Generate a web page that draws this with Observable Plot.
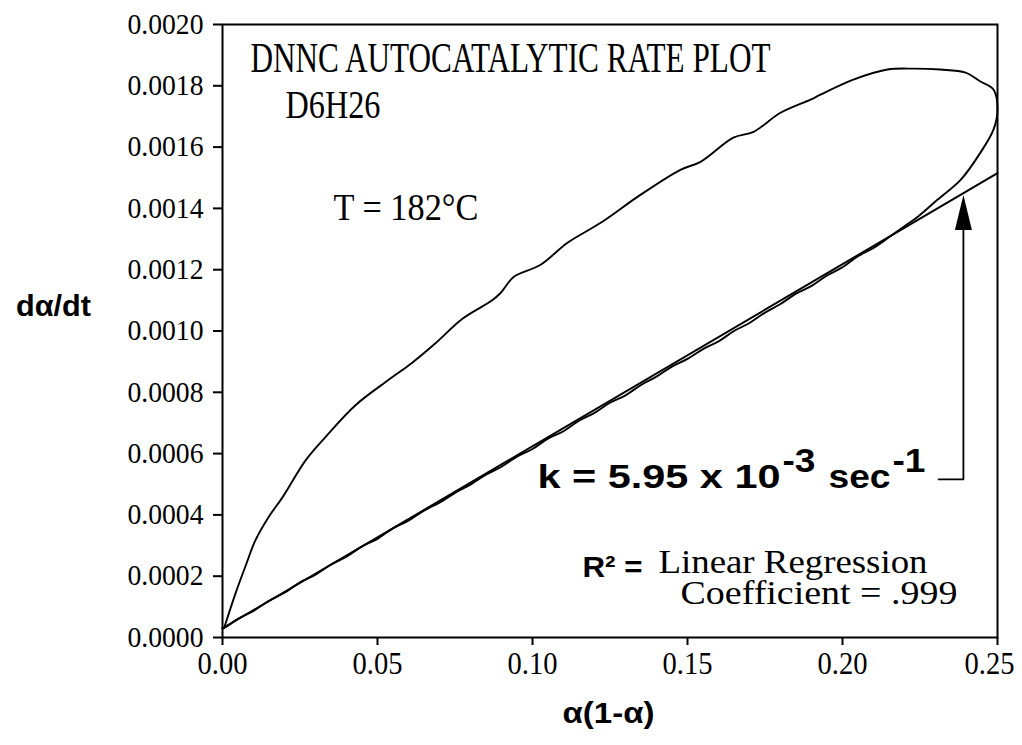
<!DOCTYPE html>
<html><head><meta charset="utf-8">
<script src="https://cdn.jsdelivr.net/npm/d3@7"></script>
<script src="https://cdn.jsdelivr.net/npm/@observablehq/plot@0.6"></script>
<style>body{margin:0;background:#fff}</style>
</head><body><div id="chart"></div>
<script>
// Measured loop: alpha(1-alpha) and d(alpha)/dt, in drawing order
const loopX = [0.0005,0.0042,0.0075,0.0106,0.015,0.0194,0.0268,0.0332,0.0429,0.0535,0.061,0.0687,0.0774,0.087,0.0897,0.0939,0.1026,0.1113,0.122,0.1348,0.1477,0.1542,0.1648,0.1713,0.18,0.1897,0.1929,0.2035,0.2145,0.2229,0.2316,0.2397,0.2445,0.2487,0.25,0.2487,0.2445,0.2381,0.2306,
  0.2242,0.22,0.215,0.21,0.205,0.2,0.195,0.19,0.185,0.18,0.175,0.17,0.165,0.16,0.155,0.15,0.145,0.14,0.135,0.13,0.125,0.12,0.115,0.11,0.105,0.1,0.095,0.09,0.085,0.08,0.075,0.07,0.065,0.06,0.055,0.05,0.045,0.04,0.035,0.03,0.025,0.02,0.015,0.01,0.005,0.001,0.0];
const loopY = [0.00003,0.000144,0.000235,0.000317,0.000395,0.000458,0.000578,0.000654,0.000758,0.00084,0.000895,0.00096,0.00104,0.0011,0.001124,0.001176,0.001216,0.001288,0.001353,0.001444,0.001526,0.001552,0.001631,0.00165,0.001712,0.001755,0.001771,0.00182,0.001853,0.001856,0.001853,0.001843,0.001814,0.001788,0.001722,0.001657,0.001582,0.001493,0.001428,
  0.001372,0.001342,0.001306,0.001271,0.001244,0.001208,0.001181,0.001147,0.001122,0.001088,0.00106,0.001026,0.001,0.000966,0.000941,0.000909,0.000884,0.000851,0.000824,0.00079,0.000766,0.000733,0.000707,0.000673,0.000649,0.000615,0.00059,0.000557,0.000531,0.000499,0.000472,0.00044,0.000414,0.000381,0.000356,0.000322,0.000297,0.000264,0.000238,0.000205,0.00018,0.000146,0.00012,0.000087,0.000061,0.000034,0.00003];
// Regression line endpoints
const fitX = [0, 0.25];
const fitY = [0.00003, 0.001515];
// Tick values
const xTicks = [0, 0.05, 0.10, 0.15, 0.20, 0.25];
const yTicks = [0, 0.0002, 0.0004, 0.0006, 0.0008, 0.0010, 0.0012, 0.0014, 0.0016, 0.0018, 0.0020];
// Annotation texts
const titleText = "DNNC AUTOCATALYTIC RATE PLOT";
const sampleText = "D6H26";
const tempText = "T = 182°C";
const kText = ["k = 5.95 x 10", "-3", "sec", "-1"];
const r2Text = ["R² =", "Linear Regression", "Coefficient = .999"];
const yLabel = "dα/dt";
const xLabel = "α(1-α)";

const loop = loopX.map((x, i) => ({x, y: loopY[i]}));
const fit = fitX.map((x, i) => ({x, y: fitY[i]}));

const serif = "Liberation Serif, Times New Roman, serif";
const sans = "Liberation Sans, Arial, sans-serif";

// annotation layout (data units)
const notes = [
  {t: titleText, x: 0.00903, y: 0.001846, fs: 42, ff: serif, fw: "normal", len: 520, a: "start"},
  {t: sampleText, x: 0.02032, y: 0.001696, fs: 40, ff: serif, fw: "normal", len: 95, a: "start"},
  {t: tempText, x: 0.0358, y: 0.001363, fs: 38, ff: serif, fw: "normal", len: 145, a: "start"},
  {t: kText[0], x: 0.10161, y: 0.000487, fs: 33, ff: sans, fw: "bold", len: 243, a: "start"},
  {t: kText[1], x: 0.18065, y: 0.000539, fs: 33, ff: sans, fw: "bold", len: 33, a: "start"},
  {t: kText[2], x: 0.19548, y: 0.000487, fs: 33, ff: sans, fw: "bold", len: 62, a: "start"},
  {t: kText[3], x: 0.21613, y: 0.000539, fs: 33, ff: sans, fw: "bold", len: 33, a: "start"},
  {t: r2Text[0], x: 0.11613, y: 0.000199, fs: 30, ff: sans, fw: "bold", len: 60, a: "start"},
  {t: r2Text[1], x: 0.14065, y: 0.000209, fs: 33, ff: serif, fw: "normal", len: 269, a: "start"},
  {t: r2Text[2], x: 0.14774, y: 0.000108, fs: 33, ff: serif, fw: "normal", len: 277, a: "start"},
  {t: yLabel, x: -0.05452, y: 0.001049, fs: 29, ff: sans, fw: "bold", len: 75, a: "middle"},
  {t: xLabel, x: 0.12452, y: -0.000278, fs: 30, ff: sans, fw: "bold", len: 92, a: "middle"}
];
const leader = [{x: 0.2310, y: 0.000516}, {x: 0.2390, y: 0.000516}, {x: 0.2390, y: 0.00133}];
const arrowTip = [{x: 0.2390, y: 0.001444}];
const headSymbol = {draw(ctx) { ctx.moveTo(0, 0); ctx.lineTo(-8.5, 35); ctx.lineTo(8.5, 35); ctx.closePath(); }};

const chart = Plot.plot({
  width: 1022, height: 745,
  marginLeft: 222, marginRight: 25, marginTop: 24, marginBottom: 108,
  style: {fontFamily: serif, background: "#fff", color: "#000"},
  x: {domain: [0, 0.25]},
  y: {domain: [0, 0.002]},
  marks: [
    Plot.frame({stroke: "#000", strokeWidth: 2}),
    Plot.axisX({ticks: xTicks, tickFormat: d3.format(".2f"), tickSize: 8, tickPadding: 6, fontSize: 32, label: null, strokeWidth: 2}),
    Plot.axisY({ticks: yTicks, tickFormat: d3.format(".4f"), tickSize: 9, tickPadding: 10, fontSize: 30, label: null, strokeWidth: 2}),
    Plot.line(fit, {x: "x", y: "y", stroke: "#000", strokeWidth: 2}),
    Plot.line(loop, {x: "x", y: "y", stroke: "#000", strokeWidth: 1.9, curve: "catmull-rom"}),
    Plot.line(leader, {x: "x", y: "y", stroke: "#000", strokeWidth: 1.8}),
    Plot.dot(arrowTip, {x: "x", y: "y", symbol: headSymbol, fill: "#000", stroke: "none"}),
    ...notes.map(n => Plot.text([n], {x: "x", y: "y", text: "t", fontSize: n.fs, fontFamily: n.ff, fontWeight: n.fw, textAnchor: n.a, lineAnchor: "bottom", fill: "#000"}))
  ]
});
const lens = new Map(notes.map(n => [n.t, n.len]));
d3.select(chart).selectAll("text").each(function() {
  const l = lens.get(this.textContent);
  if (l) { this.setAttribute("textLength", l); this.setAttribute("lengthAdjust", "spacingAndGlyphs"); }
});
// condensed, taller tick labels, as in the reference typeface
d3.select(chart).selectAll('g[aria-label="y-axis tick label"] text')
  .style("font-size", "29px")
  .attr("textLength", 76).attr("lengthAdjust", "spacingAndGlyphs");
d3.select(chart).selectAll('g[aria-label="x-axis tick label"] text')
  .style("font-size", "32px")
  .attr("textLength", 50).attr("lengthAdjust", "spacingAndGlyphs")
  .filter(function() { return this.textContent === "0.25"; }).attr("dx", -8);
document.getElementById("chart").append(chart);
</script>
</body></html>
